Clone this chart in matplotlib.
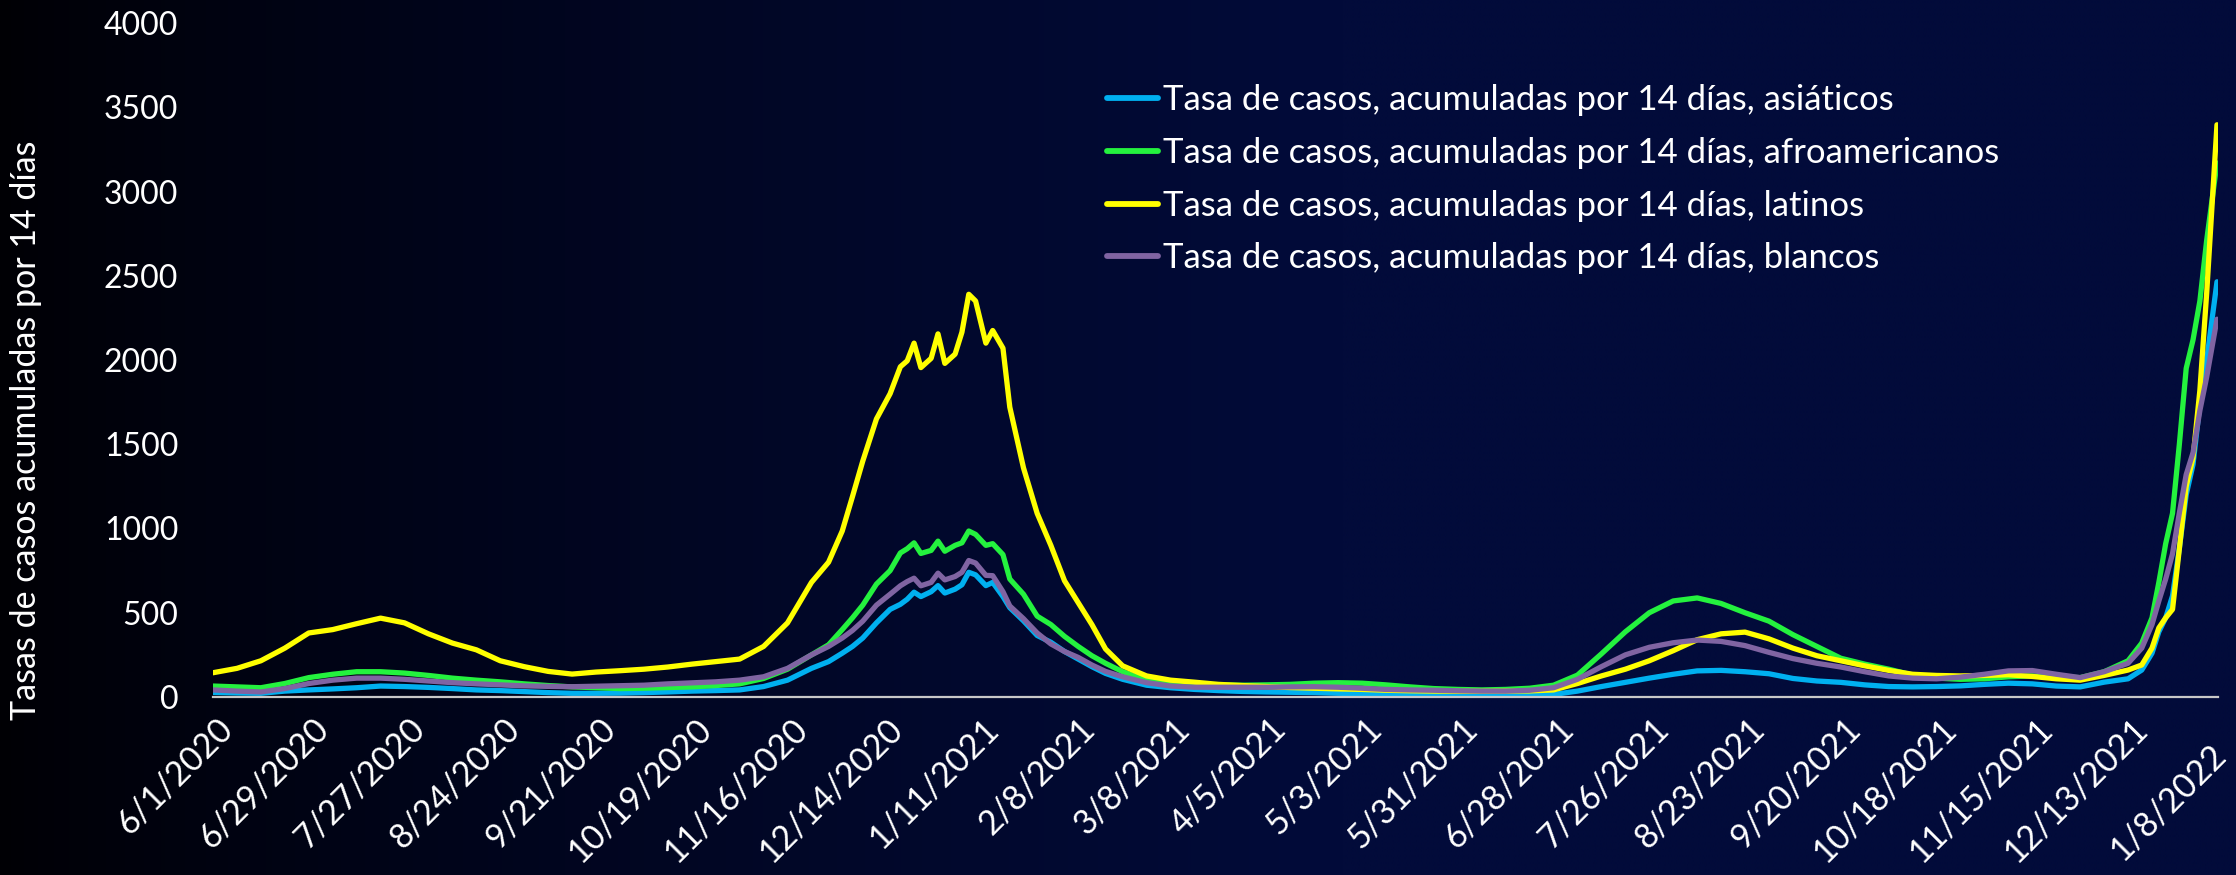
import numpy as np
import pandas as pd
import matplotlib
matplotlib.use("Agg")
import matplotlib.pyplot as plt
from matplotlib.transforms import ScaledTranslation

# ---------------- data ----------------
start_date = "2020-06-01"
day_offsets = [0, 7, 14, 21, 28, 35, 42, 49, 56, 63, 70, 77, 84, 91, 98, 105, 112, 119, 126, 133,
               140, 147, 154, 161, 168, 175, 180, 184, 187, 190, 194, 198, 201, 203, 205, 207, 210,
               212, 214, 217, 219, 221, 223, 226, 228, 231, 233, 237, 241, 245, 249, 253, 257, 261,
               266, 273, 280, 287, 294, 301, 308, 315, 322, 329, 336, 343, 350, 357, 364, 371, 378,
               385, 392, 399, 406, 413, 420, 427, 434, 441, 448, 455, 462, 469, 476, 483, 490, 497,
               504, 511, 518, 525, 532, 539, 546, 553, 560, 564, 567, 569, 571, 573, 575, 577, 579,
               581, 583, 586]

asiaticos = [27, 24, 22, 35, 42, 48, 55, 65, 62, 57, 50, 42, 38, 32, 26, 22, 22, 23, 26, 30,
             35, 38, 42, 62, 100, 170, 210, 260, 300, 350, 440, 520, 550, 580, 622, 596, 625,
             661, 617, 640, 666, 740, 725, 661, 680, 596, 530, 452, 365, 325, 270, 225, 180, 140,
             105, 70, 55, 45, 38, 33, 30, 28, 26, 22, 20, 18, 16, 14, 12, 10, 9,
             9, 15, 35, 62, 87, 112, 135, 155, 158, 150, 138, 110, 95, 87, 72, 62, 60,
             62, 66, 75, 82, 78, 65, 60, 88, 108, 160, 260, 387, 470, 600, 884, 1200, 1380,
             1740, 2000, 2464]

afroamericanos = [65, 60, 55, 80, 115, 135, 150, 150, 142, 128, 112, 100, 90, 78, 68, 60, 55, 50, 52, 56,
                  60, 68, 78, 110, 165, 250, 310, 400, 470, 545, 670, 750, 855, 880, 915, 852, 870,
                  925, 865, 900, 915, 985, 965, 900, 910, 845, 700, 610, 480, 430, 360, 300, 245, 200,
                  150, 100, 78, 70, 72, 70, 72, 75, 82, 85, 82, 72, 60, 50, 45, 42, 45,
                  52, 70, 130, 256, 387, 500, 570, 588, 555, 500, 450, 370, 300, 230, 195, 165, 130,
                  112, 105, 108, 120, 125, 120, 115, 150, 215, 320, 470, 680, 910, 1090, 1500, 1950, 2120,
                  2350, 2712, 3169]

latinos = [144, 170, 215, 290, 380, 400, 435, 468, 440, 375, 320, 280, 215, 180, 152, 136, 148, 156, 165, 178,
           195, 210, 225, 300, 440, 680, 800, 985, 1190, 1400, 1650, 1800, 1960, 1995, 2100, 1955, 2010,
           2155, 1980, 2035, 2165, 2390, 2350, 2100, 2175, 2070, 1720, 1360, 1090, 900, 690, 560, 430, 285,
           185, 125, 100, 88, 75, 68, 62, 56, 52, 48, 45, 40, 37, 35, 34, 34, 35,
           36, 42, 80, 125, 165, 215, 275, 340, 375, 385, 345, 290, 245, 215, 185, 158, 135,
           128, 125, 128, 132, 122, 108, 100, 128, 160, 190, 290, 410, 470, 520, 880, 1250, 1420,
           1820, 2400, 3396]

blancos = [42, 35, 30, 50, 80, 100, 112, 112, 105, 95, 85, 78, 72, 66, 63, 61, 64, 67, 70, 78,
           84, 90, 100, 120, 170, 250, 300, 350, 395, 450, 545, 610, 660, 685, 705, 660, 680,
           735, 695, 715, 740, 810, 795, 722, 720, 625, 540, 465, 380, 315, 270, 235, 190, 152,
           120, 85, 65, 58, 58, 58, 58, 60, 61, 58, 52, 45, 42, 40, 37, 35, 35,
           40, 55, 105, 180, 250, 295, 322, 338, 330, 305, 265, 228, 200, 178, 150, 125, 112,
           108, 118, 135, 155, 157, 135, 115, 150, 200, 290, 430, 570, 700, 850, 1093, 1320, 1450,
           1700, 1900, 2242]

series_labels = ["Tasa de casos, acumuladas por 14 días, asiáticos",
                 "Tasa de casos, acumuladas por 14 días, afroamericanos",
                 "Tasa de casos, acumuladas por 14 días, latinos",
                 "Tasa de casos, acumuladas por 14 días, blancos"]
series_colors = ["#00b0f0", "#24f23e", "#ffff00", "#8064a2"]

tick_dates = ["2020-06-01", "2020-06-29", "2020-07-27", "2020-08-24", "2020-09-21", "2020-10-19",
              "2020-11-16", "2020-12-14", "2021-01-11", "2021-02-08", "2021-03-08", "2021-04-05",
              "2021-05-03", "2021-05-31", "2021-06-28", "2021-07-26", "2021-08-23", "2021-09-20",
              "2021-10-18", "2021-11-15", "2021-12-13", "2022-01-08"]
tick_labels = ["6/1/2020", "6/29/2020", "7/27/2020", "8/24/2020", "9/21/2020", "10/19/2020",
               "11/16/2020", "12/14/2020", "1/11/2021", "2/8/2021", "3/8/2021", "4/5/2021",
               "5/3/2021", "5/31/2021", "6/28/2021", "7/26/2021", "8/23/2021", "9/20/2021",
               "10/18/2021", "11/15/2021", "12/13/2021", "1/8/2022"]
y_ticks = [0, 500, 1000, 1500, 2000, 2500, 3000, 3500, 4000]
y_label = "Tasas de casos acumuladas por 14 días"

# ---------------- figure ----------------
W, H = 2236, 875
FONT = ["Lato", "DejaVu Sans"]
plt.rcParams["font.family"] = FONT

fig = plt.figure(figsize=(W / 100, H / 100), dpi=100)

# background gradient (black on the left -> navy on the right)
bg = fig.add_axes([0, 0, 1, 1], zorder=-10)
xs = np.linspace(0, 1, 600)
t = np.clip(xs / 0.6, 0, 1) ** 0.8
left = np.array([0, 0, 4]) / 255
right = np.array([2, 11, 58]) / 255
row = left[None, :] * (1 - t[:, None]) + right[None, :] * t[:, None]
img = np.repeat(row[None, :, :], 2, axis=0)
bg.imshow(img, aspect="auto", extent=[0, 1, 0, 1], interpolation="bilinear")
bg.set_axis_off()

x0, x1 = 213, 2218
y_top, y_zero = 23, 697
ax = fig.add_axes([x0 / W, (H - y_zero) / H, (x1 - x0) / W, (y_zero - y_top) / H])
ax.set_facecolor("none")

dates = pd.Timestamp(start_date) + pd.to_timedelta(day_offsets, unit="D")
for vals, lab, col in zip([asiaticos, afroamericanos, latinos, blancos], series_labels, series_colors):
    ax.plot(dates, vals, color=col, lw=3.8, label=lab, solid_joinstyle="round",
            solid_capstyle="round")

ax.set_xlim(pd.Timestamp(start_date), pd.Timestamp(start_date) + pd.Timedelta(days=586.3))
ax.set_ylim(0, 4000)
ax.set_yticks(y_ticks)
ax.set_yticklabels([str(v) for v in y_ticks])
ax.tick_params(axis="y", length=0, pad=25, labelsize=23, labelcolor="white")

ax.set_xticks(pd.to_datetime(tick_dates))
ax.set_xticklabels(tick_labels, rotation=45, ha="right", va="top", rotation_mode="anchor")
ax.tick_params(axis="x", length=0, pad=11, labelsize=24.5, labelcolor="white")
for i, lbl in enumerate(ax.get_xticklabels()):
    dx, dy = 3, 0
    if i == len(tick_labels) - 1:
        dx, dy = -8, -26
    lbl.set_transform(lbl.get_transform() + ScaledTranslation(dx / 100, dy / 100, fig.dpi_scale_trans))

for s in ["top", "right", "left"]:
    ax.spines[s].set_visible(False)
ax.spines["bottom"].set_color("#c8c8c8")
ax.spines["bottom"].set_linewidth(1.6)

fig.text(26 / W, 1 - 430 / H, y_label, rotation=90, ha="center", va="center",
         color="white", fontsize=24.5)

leg = ax.legend(loc="upper left", bbox_to_anchor=(1107 / W, 1 - 84 / H),
                bbox_transform=fig.transFigure, frameon=False, fontsize=25,
                handlelength=1.47, handletextpad=0.14, labelspacing=0.6,
                borderpad=0, borderaxespad=0)
for txt in leg.get_texts():
    txt.set_color("white")
for ln in leg.get_lines():
    ln.set_linewidth(4.2)

fig.savefig("out.png", dpi=100)
